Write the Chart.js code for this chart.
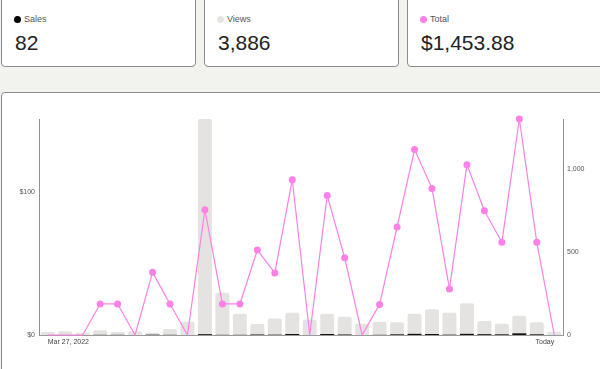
<!DOCTYPE html>
<html>
<head>
<meta charset="utf-8">
<title>Stats</title>
<script src="https://cdn.jsdelivr.net/npm/chart.js@4.4.1/dist/chart.umd.min.js"></script>
<style>
  body { margin: 0; width: 600px; height: 369px; overflow: hidden; background: #f2f2ee; font-family: "Liberation Sans", Arial, sans-serif; position: relative; }
  .card { position: absolute; top: -10px; height: 75px; background: #fff; border: 1px solid #8c8c8c; border-radius: 4px; }
  .card .lbl { position: absolute; left: 22px; top: 22px; font-size: 9px; color: #555; line-height: 12px; }
  .card .dot { position: absolute; left: 12px; top: 25px; width: 7px; height: 7px; border-radius: 50%; }
  .card .num { position: absolute; left: 13px; top: 40px; font-size: 21px; color: #222; line-height: 24px; }
  #panel { position: absolute; left: 1px; top: 92px; width: 620px; height: 300px; background: #fff; border: 1px solid #8c8c8c; border-radius: 4px; }
  #wrap { position: absolute; left: 0; top: 110px; width: 600px; height: 250px; }
</style>
</head>
<body>
<div class="card" style="left:1px;width:193px;"><span class="dot" style="background:#000"></span><span class="lbl">Sales</span><span class="num">82</span></div>
<div class="card" style="left:204px;width:193px;"><span class="dot" style="background:#e4e3e1"></span><span class="lbl">Views</span><span class="num">3,886</span></div>
<div class="card" style="left:407px;width:220px;"><span class="dot" style="background:#ff80e6"></span><span class="lbl">Total</span><span class="num">$1,453.88</span></div>
<div id="panel"></div>
<div id="wrap"><canvas id="barChart"></canvas></div>
<script>
var days = ['Mar 27, 2022', 'Mar 28, 2022', 'Mar 29, 2022', 'Mar 30, 2022', 'Mar 31, 2022',
  'Apr 1, 2022', 'Apr 2, 2022', 'Apr 3, 2022', 'Apr 4, 2022', 'Apr 5, 2022', 'Apr 6, 2022',
  'Apr 7, 2022', 'Apr 8, 2022', 'Apr 9, 2022', 'Apr 10, 2022', 'Apr 11, 2022', 'Apr 12, 2022',
  'Apr 13, 2022', 'Apr 14, 2022', 'Apr 15, 2022', 'Apr 16, 2022', 'Apr 17, 2022', 'Apr 18, 2022',
  'Apr 19, 2022', 'Apr 20, 2022', 'Apr 21, 2022', 'Apr 22, 2022', 'Apr 23, 2022', 'Apr 24, 2022', 'Today'];
var views = [18, 22, 14, 28, 18, 22, 14, 36, 80, 1300, 255, 128, 66, 100, 134, 92, 128, 110, 68, 80,
  76, 128, 155, 134, 191, 84, 68, 116, 76, 20];
var sales = [0, 0, 0, 1, 1, 0, 2, 1, 0, 5, 1, 1, 3, 2, 6, 0, 6, 3, 0, 1, 4, 7, 6, 2, 7, 5, 4, 10, 4, 0];
var totals = [0, 0, 0, 21.71, 21.71, 0, 43.8, 21.71, 0, 87.6, 21.71, 21.71, 59.4, 43.4, 108.6, 0, 97.6, 54.0, 0, 21.4,
  75.5, 129.6, 102.5, 32.2, 119.1, 86.9, 64.8, 151.0, 64.8, 0];
var moneyTicks = 100;
var viewTicks = 500;

Chart.defaults.font.family = '"Liberation Sans", Arial, sans-serif';
Chart.defaults.font.size = 7;
Chart.defaults.color = '#555';

var chart = new Chart(document.querySelector('#barChart'), {
  type: 'bar',
  data: {
    labels: days,
    datasets: [{
      type: 'line',
      label: 'Total',
      data: totals,
      yAxisID: 'y',
      borderColor: '#ff80e6',
      backgroundColor: '#ff80e6',
      borderWidth: 1.2,
      borderJoinStyle: 'round',
      pointRadius: function (ctx) { return ctx.raw === 0 ? 0 : 3.5; },
      pointBorderWidth: 0,
      tension: 0,
      clip: false
    }, {
      label: 'Sales',
      data: sales,
      yAxisID: 'y1',
      grouped: false,
      backgroundColor: '#111',
      barPercentage: 0.8,
      categoryPercentage: 1
    }, {
      label: 'Views',
      data: views,
      yAxisID: 'y1',
      grouped: false,
      backgroundColor: '#e4e3e1',
      borderRadius: 2,
      borderSkipped: 'bottom',
      barPercentage: 0.8,
      categoryPercentage: 1
    }]
  },
  options: {
    responsive: true,
    maintainAspectRatio: false,
    animation: false,
    layout: { padding: { top: 9 } },
    plugins: { legend: { display: false }, tooltip: { enabled: false } },
    scales: {
      x: {
        grid: { display: false, drawTicks: false },
        border: { display: true, color: '#999' },
        ticks: {
          autoSkip: false,
          maxRotation: 0,
          align: 'inner',
          padding: 3,
          color: '#444',
          callback: function (v, i, t) {
            return (i === 0 || i === t.length - 1) ? this.getLabelForValue(v) : null;
          }
        },
        afterFit: function (s) { s.height = 25; }
      },
      y: {
        position: 'left',
        beginAtZero: true,
        bounds: 'data',
        grid: { display: false, drawTicks: false },
        border: { display: true, color: '#8f8f8f' },
        ticks: {
          stepSize: moneyTicks,
          padding: 4,
          callback: function (v) { return v % moneyTicks === 0 ? '$' + v : null; }
        },
        afterFit: function (s) { s.width = 39; }
      },
      y1: {
        position: 'right',
        beginAtZero: true,
        bounds: 'data',
        grid: { display: false, drawTicks: false },
        border: { display: true, color: '#8f8f8f' },
        ticks: {
          stepSize: viewTicks,
          padding: 4,
          callback: function (v) { return v % viewTicks === 0 ? v.toLocaleString('en-US') : null; }
        },
        afterFit: function (s) { s.width = 37; }
      }
    }
  }
});
</script>
</body>
</html>
